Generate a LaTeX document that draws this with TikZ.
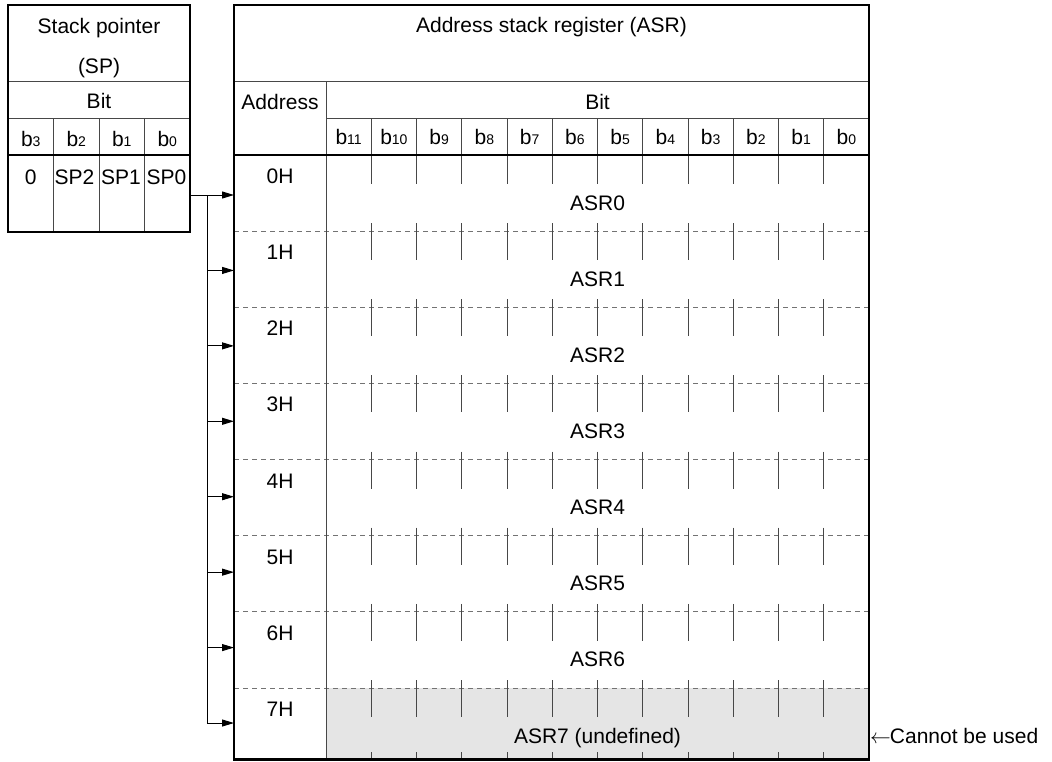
\documentclass[tikz,border=0pt]{standalone}
\usepackage{fontspec}
\setmainfont{Liberation Sans}
\usetikzlibrary{arrows.meta}
\newcommand\bsub[1]{b{\fontsize{14}{14}\selectfont #1}}
\begin{document}
\begin{tikzpicture}[x=1pt,y=-1pt,
  font=\fontsize{21}{25}\selectfont,
  thickline/.style={line width=2.5pt, draw=black},
  thinline/.style={line width=1pt, draw=black!72},
  dashline/.style={line width=1pt, draw=black!55, dash pattern=on 5pt off 4pt},
  tickline/.style={line width=1pt, draw=black!72},
  conn/.style={line width=1pt, draw=black},
  ptr/.style={line width=1pt, draw=black, -{Triangle[length=12pt,width=7pt]}},
  lbl/.style={inner sep=0pt, anchor=base},
  unusedfill/.style={fill=black!10}]
\useasboundingbox (0,0) rectangle (1052,761);

% ---------------- Stack pointer table ----------------
\draw[thinline] (8,81) -- (190,81);
\draw[thinline] (8,118) -- (190,118);
\foreach \x in {53.5,99,144.5} \draw[thinline] (\x,118) -- (\x,232);
\draw[thickline] (8,155) -- (190,155);
\draw[thickline] (8,5) rectangle (190,232);

\node[lbl] (sptitle) at (99,33) {Stack pointer};
\node[lbl] (spabbr) at (99,73) {(SP)};
\node[lbl] (spbit) at (99,108) {Bit};
\node[lbl] (spb3) at (30.75,146) {\bsub{3}};
\node[lbl] (spb2) at (76.25,146) {\bsub{2}};
\node[lbl] (spb1) at (121.75,146) {\bsub{1}};
\node[lbl] (spb0) at (167.25,146) {\bsub{0}};
\node[lbl] (spv3) at (30.75,184.5) {0};
\node[lbl] (spv2) at (74.5,184.5) {SP2};
\node[lbl] (spv1) at (121,184.5) {SP1};
\node[lbl] (spv0) at (166.5,184.5) {SP0};

% ---------------- Address stack register table ----------------
\fill[unusedfill] (326,688) rectangle (869,759.5);

% dashed row separators
\foreach \k in {1,...,7} {
  \pgfmathsetmacro\yy{155+76.143*\k}
  \draw[dashline] (234,\yy) -- (869,\yy);
}
% header lines
\draw[thinline] (234,81) -- (869,81);
\draw[thinline] (326,118) -- (869,118);
\draw[thinline] (326,81) -- (326,759.5);
% bit column lines in header and ticks
\foreach \c in {1,...,11} {
  \pgfmathsetmacro\xx{326+45.25*\c}
  \draw[tickline] (\xx,118) -- (\xx,184);
  \foreach \k in {1,...,7} {
    \pgfmathsetmacro\yy{155+76.143*\k}
    \draw[tickline] (\xx,\yy-8) -- (\xx,\yy+29);
  }
  \draw[tickline] (\xx,752) -- (\xx,759.5);
}
\draw[thickline] (234,155) -- (869,155);
\draw[thickline] (234,5) rectangle (869,759.5);

\node[lbl] (asrtitle) at (551.5,32) {Address stack register (ASR)};
\node[lbl] (addr) at (280,109) {Address};
\node[lbl] (asrbit) at (597.5,109) {Bit};
\foreach \c/\b in {0/11,1/10,2/9,3/8,4/7,5/6,6/5,7/4,8/3,9/2,10/1,11/0} {
  \pgfmathsetmacro\xx{326+45.25*(\c+0.5)}
  \node[lbl] (asrb\b) at (\xx,144.5) {\bsub{\b}};
}
\foreach \k in {0,...,6} {
  \pgfmathsetmacro\yy{155+76.143*\k}
  \node[lbl] (addr\k) at (280,\yy+28.5) {\k H};
  \node[lbl] (asr\k) at (597.5,\yy+55) {ASR\k};
}
\node[lbl] (addr7) at (280,716.5) {7H};
\node[lbl] (asr7) at (597.5,743) {ASR7 (undefined)};
\node[lbl, anchor=base west] (note) at (870,743) {\ensuremath{\leftarrow}\kern-1ptCannot be used};

% ---------------- pointer connectors ----------------
\coordinate (spout) at (190,195);
\foreach \k in {0,...,7} {
  \pgfmathsetmacro\yy{195+75.43*\k}
  \coordinate (j\k) at (207,\yy);
  \coordinate (in\k) at (234,\yy);
}
\draw[conn] (spout) -- (j0);
\draw[conn] (j0) -- (j7);
\foreach \k in {0,...,7} \draw[ptr] (j\k) -- (in\k);
\end{tikzpicture}
\end{document}
